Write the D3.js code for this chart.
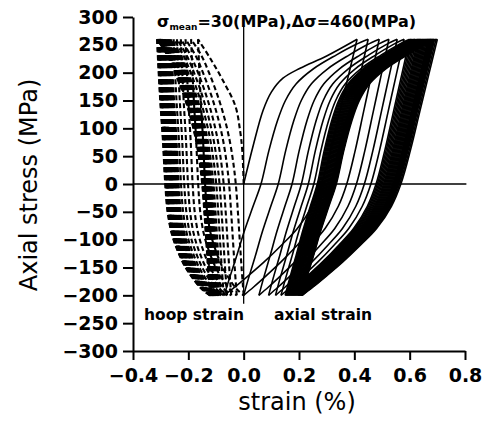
<!DOCTYPE html>
<html>
<head>
<meta charset="utf-8">
<script src="https://cdn.jsdelivr.net/npm/d3@7"></script>
<style>
  body { margin: 0; background: #fff; }
  svg { display: block; background: #fff; }
  .tick text { font-family: "DejaVu Sans", sans-serif; font-weight: bold; font-size: 19px; fill: #000; }
  .axis path, .axis line { stroke: #000; stroke-width: 2; }
</style>
</head>
<body>
<div class="chart"></div>
<script>
// Chart size
const w = 484;
const h = 424;

// Tick values
const xTicks = [-0.4, -0.2, 0, 0.2, 0.4, 0.6, 0.8];
const yTicks = [-300, -250, -200, -150, -100, -50, 0, 50, 100, 150, 200, 250, 300];

// Axial strain (%) at the stress peak (260 MPa) / valley (-200 MPa) of each cycle
const axialPeaks = [0.41, 0.45, 0.49, 0.525, 0.555, 0.58,
  0.60, 0.605, 0.61, 0.615, 0.62, 0.625, 0.63, 0.634, 0.638, 0.642, 0.646, 0.65, 0.654,
  0.658, 0.662, 0.666, 0.669, 0.672, 0.675, 0.678, 0.681, 0.684, 0.687, 0.69, 0.695, 0.70];
const axialValleys = [-0.07, 0.0, 0.055, 0.09, 0.115, 0.135,
  0.15, 0.153, 0.156, 0.159, 0.162, 0.165, 0.168, 0.171, 0.174, 0.177, 0.18, 0.183, 0.186,
  0.189, 0.192, 0.195, 0.197, 0.199, 0.201, 0.203, 0.205, 0.207, 0.208, 0.209, 0.21, 0.212];

// Hoop strain (%) at the stress peak / valley of each cycle
const hoopPeaks = [-0.165, -0.19, -0.21, -0.227, -0.241, -0.253,
  -0.262, -0.266, -0.27, -0.273, -0.276, -0.279, -0.282, -0.284, -0.286, -0.288, -0.29, -0.292,
  -0.294, -0.296, -0.298, -0.3, -0.302, -0.303, -0.304, -0.305, -0.306, -0.307, -0.308, -0.31,
  -0.312, -0.313];
const hoopValleys = [0.0, -0.025, -0.045, -0.06, -0.072, -0.082,
  -0.088, -0.091, -0.094, -0.096, -0.098, -0.1, -0.102, -0.104, -0.105, -0.106, -0.107, -0.108,
  -0.109, -0.11, -0.111, -0.112, -0.113, -0.114, -0.115, -0.116, -0.117, -0.118, -0.119, -0.12,
  -0.121, -0.122];

// First loading paths [strain, stress]
const axialFirst = [[0, 0], [0.035, 70], [0.07, 132], [0.1, 165], [0.142, 190], [0.204, 208],
  [0.3, 230], [0.41, 260]];
const hoopFirst = [[0, 0], [-0.005, 60], [-0.013, 96], [-0.03, 140], [-0.075, 186],
  [-0.12, 225], [-0.165, 260]];

// Branch shapes read from the last loop: [stress, fraction of the way from start tip to end tip]
const axialUp = [[-200, 0], [-170, 0.035], [-130, 0.085], [-84, 0.14], [-40, 0.2], [0, 0.255],
  [60, 0.31], [114, 0.37], [150, 0.425], [180, 0.5], [207, 0.62], [232, 0.78], [250, 0.91], [260, 1]];
const axialDown = [[260, 0], [200, 0.06], [130, 0.13], [60, 0.2], [0, 0.27], [-40, 0.34],
  [-80, 0.45], [-110, 0.57], [-140, 0.7], [-165, 0.82], [-185, 0.92], [-200, 1]];
const hoopUp = [[-200, 0], [-150, 0.04], [-100, 0.075], [-50, 0.11], [0, 0.15], [40, 0.2],
  [80, 0.27], [120, 0.37], [160, 0.5], [200, 0.66], [230, 0.8], [260, 1]];
const hoopDown = [[260, 0], [220, 0.02], [150, 0.06], [80, 0.11], [0, 0.155], [-50, 0.2],
  [-90, 0.28], [-120, 0.39], [-150, 0.54], [-175, 0.72], [-190, 0.86], [-200, 1]];

const svg = d3.select(".chart").append("svg").attr("width", w).attr("height", h);

// Scales
const x = d3.scaleLinear().domain([-0.4, 0.8]).range([133, 465]);
const y = d3.scaleLinear().domain([-300, 300]).range([351, 17]);

// Build all branches of a strain history
function branches(first, peaks, valleys, up, down) {
  const shape = (tmpl, a, b) => tmpl.map(([s, t]) => [a + t * (b - a), s]);
  const out = [first];
  peaks.forEach((p, i) => {
    out.push(shape(down, p, valleys[i]));
    if (i + 1 < peaks.length) out.push(shape(up, valleys[i], peaks[i + 1]));
  });
  return out;
}

const line = d3.line()
  .x((d) => x(d[0]))
  .y((d) => y(d[1]))
  .curve(d3.curveCatmullRom.alpha(0.5));

// Zero lines
svg.append("line")
  .attr("x1", x(-0.4)).attr("x2", x(0.805))
  .attr("y1", y(0)).attr("y2", y(0))
  .attr("stroke", "#000").attr("stroke-width", 1.6);
svg.append("line")
  .attr("x1", x(0)).attr("x2", x(0))
  .attr("y1", y(285)).attr("y2", y(-215))
  .attr("stroke", "#000").attr("stroke-width", 1.3);

// Hoop strain loops (dashed)
svg.append("g")
  .selectAll("path")
  .data(branches(hoopFirst, hoopPeaks, hoopValleys, hoopUp, hoopDown))
  .join("path")
  .attr("d", line)
  .attr("fill", "none")
  .attr("stroke", "#000")
  .attr("stroke-width", 2.1)
  .attr("stroke-dasharray", "5,3");

// Axial strain loops (solid)
svg.append("g")
  .selectAll("path")
  .data(branches(axialFirst, axialPeaks, axialValleys, axialUp, axialDown))
  .join("path")
  .attr("d", line)
  .attr("fill", "none")
  .attr("stroke", "#000")
  .attr("stroke-width", 1.6);

// Axes
svg.append("g")
  .attr("class", "axis")
  .attr("transform", `translate(0, ${y(-300)})`)
  .call(d3.axisBottom(x).tickValues(xTicks).tickFormat(d3.format(".1f"))
    .tickSize(9).tickSizeOuter(0).tickPadding(9));

svg.append("g")
  .attr("class", "axis")
  .attr("transform", `translate(${x(-0.4)}, 0)`)
  .call(d3.axisLeft(y).tickValues(yTicks).tickFormat(d3.format("d"))
    .tickSize(10).tickSizeOuter(0).tickPadding(5));

// Axis titles
svg.append("text")
  .text("strain (%)")
  .attr("x", 297).attr("y", 410)
  .attr("text-anchor", "middle")
  .style("font-family", "DejaVu Sans, sans-serif")
  .style("font-size", "24px");

svg.append("text")
  .text("Axial stress (MPa)")
  .attr("transform", "translate(37, 185) rotate(-90)")
  .attr("text-anchor", "middle")
  .style("font-family", "DejaVu Sans, sans-serif")
  .style("font-size", "24px");

// Title with loading condition
const title = svg.append("text")
  .attr("x", 157).attr("y", 27)
  .style("font-family", "DejaVu Sans, sans-serif")
  .style("font-weight", "bold")
  .style("font-size", "16px");
title.append("tspan").text("σ");
title.append("tspan").text("mean").attr("dy", 3).style("font-size", "9px");
title.append("tspan").text("=30(MPa),Δσ=460(MPa)").attr("dy", -3);

// Curve labels
svg.append("text")
  .text("hoop strain")
  .attr("x", 144).attr("y", 320)
  .style("font-family", "DejaVu Sans, sans-serif")
  .style("font-weight", "bold")
  .style("font-size", "15.5px");
svg.append("text")
  .text("axial strain")
  .attr("x", 274).attr("y", 320)
  .style("font-family", "DejaVu Sans, sans-serif")
  .style("font-weight", "bold")
  .style("font-size", "15.5px");
</script>
</body>
</html>
